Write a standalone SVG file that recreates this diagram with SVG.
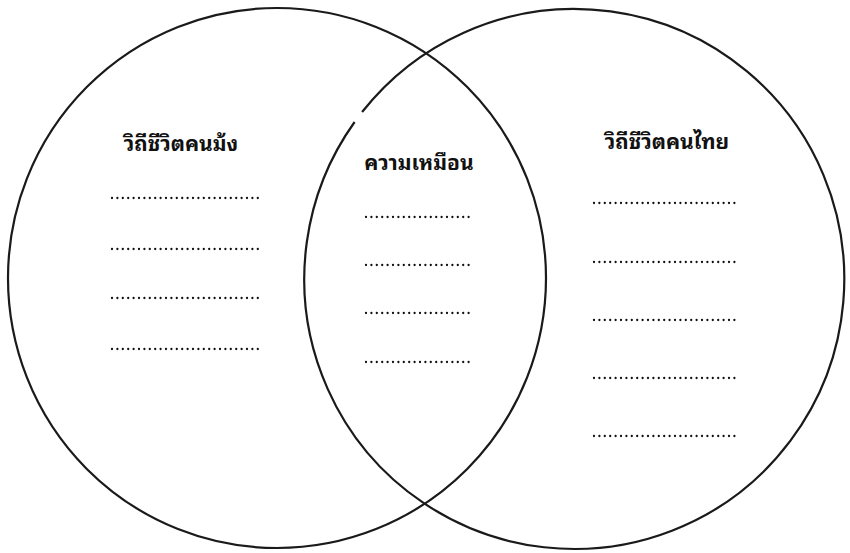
<svg xmlns="http://www.w3.org/2000/svg" width="850" height="553" viewBox="0 0 850 553">
<style>
.c{fill:none;stroke:#1a1a1a;stroke-width:2.2}
.d{stroke:#111;stroke-width:2.3;stroke-linecap:round;stroke-dasharray:0 5.4}
.t{font-family:"Noto Sans Thai Looped","Noto Sans Thai","Noto Sans","DejaVu Sans",sans-serif;font-weight:bold;font-size:21px;fill:#111}
</style>
<rect width="850" height="553" fill="#fff"/>
<g id="circle-left"><ellipse class="c" cx="277" cy="278" rx="269" ry="270"/></g>
<g id="circle-right"><path class="c" d="M 354.6 122 A 270 270 0 1 0 362.1 112"/></g>
<g id="left-group">
<text class="t" x="181" y="151" text-anchor="middle">วิถีชีวิตคนม้ง</text>
<line class="d" x1="112" y1="198" x2="263" y2="198"/>
<line class="d" x1="112" y1="249" x2="263" y2="249"/>
<line class="d" x1="112" y1="298" x2="263" y2="298"/>
<line class="d" x1="112" y1="349" x2="263" y2="349"/>
</g>
<g id="middle-group">
<text class="t" x="419" y="170" text-anchor="middle">ความเหมือน</text>
<line class="d" x1="366" y1="217" x2="472" y2="217"/>
<line class="d" x1="366" y1="265" x2="472" y2="265"/>
<line class="d" x1="366" y1="313" x2="472" y2="313"/>
<line class="d" x1="366" y1="362" x2="472" y2="362"/>
</g>
<g id="right-group">
<text class="t" x="667" y="149" text-anchor="middle">วิถีชีวิตคนไทย</text>
<line class="d" x1="594" y1="203" x2="737" y2="203"/>
<line class="d" x1="594" y1="262" x2="737" y2="262"/>
<line class="d" x1="594" y1="320" x2="737" y2="320"/>
<line class="d" x1="594" y1="378" x2="737" y2="378"/>
<line class="d" x1="594" y1="436" x2="737" y2="436"/>
</g>
</svg>
